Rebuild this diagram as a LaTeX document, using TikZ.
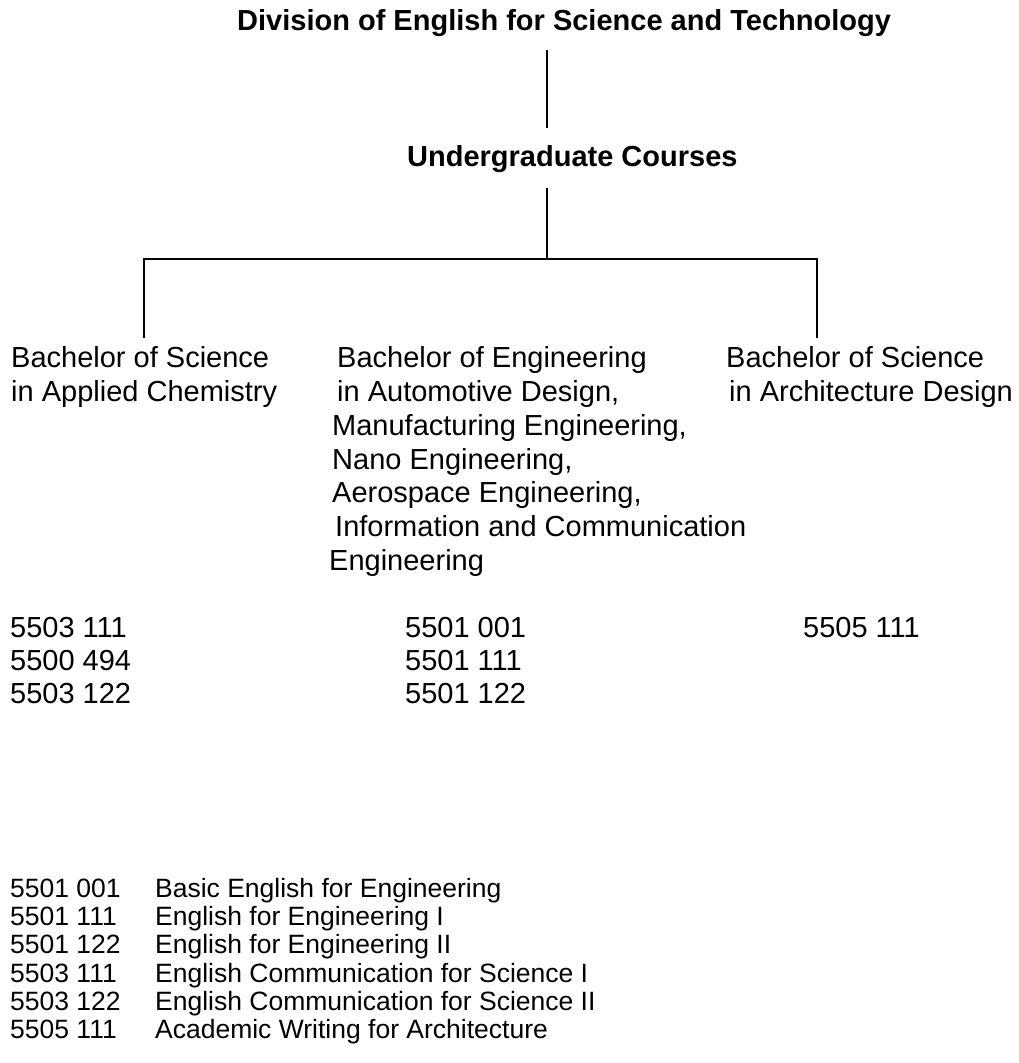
\documentclass[tikz,border=0pt]{standalone}
\usepackage{fontspec}
\setmainfont{Liberation Sans}
\begin{document}
\begin{tikzpicture}[x=1pt,y=-1pt,
  lbl/.style={anchor=base west, inner sep=0pt, font=\fontsize{29}{34}\selectfont},
  hdr/.style={anchor=base west, inner sep=0pt, font=\bfseries\fontsize{29}{34}\selectfont},
  lst/.style={anchor=base west, inner sep=0pt, font=\fontsize{26.5}{28}\selectfont},
  conn/.style={line width=1.3pt}]
\useasboundingbox (0,0) rectangle (1019,1063);

% headings
\node[hdr] (title) at (237,30) {Division of English for Science and Technology};
\node[hdr] (ug) at (407,166) {Undergraduate Courses};

% fork coordinates
\coordinate (trunk) at (547,0);
\coordinate (fork) at (547,259);
\coordinate (forkL) at (144,259);
\coordinate (forkR) at (817,259);
\coordinate (dropL) at (144,338);
\coordinate (dropR) at (817,338);

\draw[conn, shorten <=14pt, shorten >=17pt] (title.south -| trunk) -- (ug.north -| trunk);
\draw[conn, shorten <=16pt] (ug.south -| trunk) -- (fork);
\draw[conn] (dropL) -- (forkL) -- (forkR) -- (dropR);

% left programme
\node[lbl] (bsc1) at (11,367) {Bachelor of Science};
\node[lbl] (bsc2) at (11,401) {in Applied Chemistry};

% middle programme
\node[lbl] (beng1) at (337,367) {Bachelor of Engineering};
\node[lbl] (beng2) at (337,401) {in Automotive Design,};
\node[lbl] (beng3) at (332,435) {Manufacturing Engineering,};
\node[lbl] (beng4) at (332,469) {Nano Engineering,};
\node[lbl] (beng5) at (332,502) {Aerospace Engineering,};
\node[lbl] (beng6) at (335,536) {Information and Communication};
\node[lbl] (beng7) at (329,570) {Engineering};

% right programme
\node[lbl] (bar1) at (726,367) {Bachelor of Science};
\node[lbl] (bar2) at (729,401) {in Architecture Design};

% course codes
\node[lbl] (cl1) at (10,637) {5503 111};
\node[lbl] (cl2) at (10,670) {5500 494};
\node[lbl] (cl3) at (10,703) {5503 122};
\node[lbl] (cm1) at (405,637) {5501 001};
\node[lbl] (cm2) at (405,670) {5501 111};
\node[lbl] (cm3) at (405,703) {5501 122};
\node[lbl] (cr1) at (803,637) {5505 111};

% legend
\node[lst] (k1) at (10,897) {\makebox[145pt][l]{5501 001}Basic English for Engineering};
\node[lst] (k2) at (10,925) {\makebox[145pt][l]{5501 111}English for Engineering I};
\node[lst] (k3) at (10,953) {\makebox[145pt][l]{5501 122}English for Engineering II};
\node[lst] (k4) at (10,982) {\makebox[145pt][l]{5503 111}English Communication for Science I};
\node[lst] (k5) at (10,1010) {\makebox[145pt][l]{5503 122}English Communication for Science II};
\node[lst] (k6) at (10,1038) {\makebox[145pt][l]{5505 111}Academic Writing for Architecture};
\end{tikzpicture}
\end{document}
